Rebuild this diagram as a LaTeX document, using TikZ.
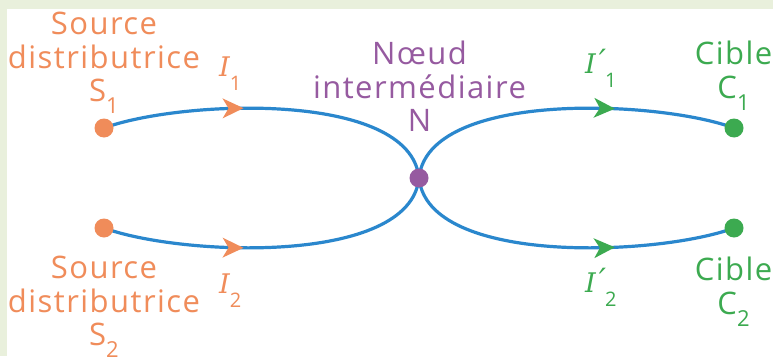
\documentclass[tikz,border=0pt]{standalone}
\usepackage{fontspec}
\setmainfont{Open Sans}[LetterSpace=4.7]
\newfontfamily\ifont{DejaVu Serif}
\usetikzlibrary{decorations.markings,backgrounds}
\definecolor{bgc}{HTML}{E9F0DC}
\definecolor{orangec}{HTML}{F08C5A}
\definecolor{bluec}{HTML}{2A87CD}
\definecolor{purplec}{HTML}{965AA0}
\definecolor{greenc}{HTML}{3CAA50}
\newcommand{\mysubA}[1]{\raisebox{-12pt}{\fontsize{22}{22}\selectfont #1}}
\newcommand{\mysubB}[1]{\raisebox{-14pt}{\fontsize{20}{20}\selectfont #1}}
\newcommand{\myprime}{\hspace{3pt}\raisebox{1pt}{\fontsize{32}{32}\selectfont ′}}
\tikzset{
  dotnode/.style={circle, inner sep=0pt, minimum size=19pt},
  lab/.style={inner sep=0pt, align=center, font=\fontsize{31}{33.5}\selectfont},
  ilab/.style={inner sep=0pt, font=\fontsize{27}{27}\selectfont},
  wire/.style={draw=bluec, line width=3.2pt},
  tipA/.style={postaction=decorate, decoration={markings,
    mark=at position #1 with {\fill[orangec] (0pt,0pt) -- (-21pt,10pt) -- (-15pt,0pt) -- (-21pt,-10pt) -- cycle;}}},
  tipB/.style={postaction=decorate, decoration={markings,
    mark=at position #1 with {\fill[greenc] (0pt,0pt) -- (-21pt,10pt) -- (-15pt,0pt) -- (-21pt,-10pt) -- cycle;}}}
}
\begin{document}
\begin{tikzpicture}[x=1pt,y=-1pt]
\useasboundingbox (0,0) rectangle (773,356);
% dots
\node[dotnode, fill=orangec] (S1) at (104,128) {};
\node[dotnode, fill=orangec] (S2) at (104,228) {};
\node[dotnode, fill=purplec] (N) at (419,178) {};
\node[dotnode, fill=greenc] (C1) at (734,128) {};
\node[dotnode, fill=greenc] (C2) at (734,228) {};
% labels
\node[lab, text=orangec, anchor=north] (S1lab) at (104,12) {Source\\distributrice\\S\mysubA{1}};
\node[lab, text=orangec, anchor=north] (S2lab) at (104,256) {Source\\distributrice\\S\mysubA{2}};
\node[lab, text=purplec, anchor=north] (Nlab) at (419.5,41) {Nœud\\intermédiaire\\N};
\node[lab, text=greenc, anchor=north] (C1lab) at (733.5,41) {Cible\\C\mysubA{1}};
\node[lab, text=greenc, anchor=north] (C2lab) at (733.5,257) {Cible\\C\mysubA{2}};
% current labels
\node[ilab, text=orangec, anchor=base west] (I1) at (219,76) {{\ifont\itshape I}\mysubB{1}};
\node[ilab, text=orangec, anchor=base west] (I2) at (219,293) {{\ifont\itshape I}\mysubB{2}};
\node[ilab, text=greenc, anchor=base west] (I3) at (585,73) {{\ifont\itshape I\myprime}\hspace{-1pt}\mysubB{1}};
\node[ilab, text=greenc, anchor=base west] (I4) at (585,292) {{\ifont\itshape I\myprime}\hspace{-1pt}\mysubB{2}};
\begin{scope}[on background layer]
  \fill[bgc] (0,0) rectangle (773,356);
  \fill[white] (7,9) rectangle (773,356);
  \draw[wire, tipA=0.41] (S1.center) .. controls (180,100) and (410,90) .. (N.center);
  \draw[wire, tipA=0.41] (S2.center) .. controls (180,256) and (410,266) .. (N.center);
  \draw[wire, tipB=0.649] (N.center) .. controls (428,90) and (658,100) .. (C1.center);
  \draw[wire, tipB=0.649] (N.center) .. controls (428,266) and (658,256) .. (C2.center);
\end{scope}
\end{tikzpicture}
\end{document}
